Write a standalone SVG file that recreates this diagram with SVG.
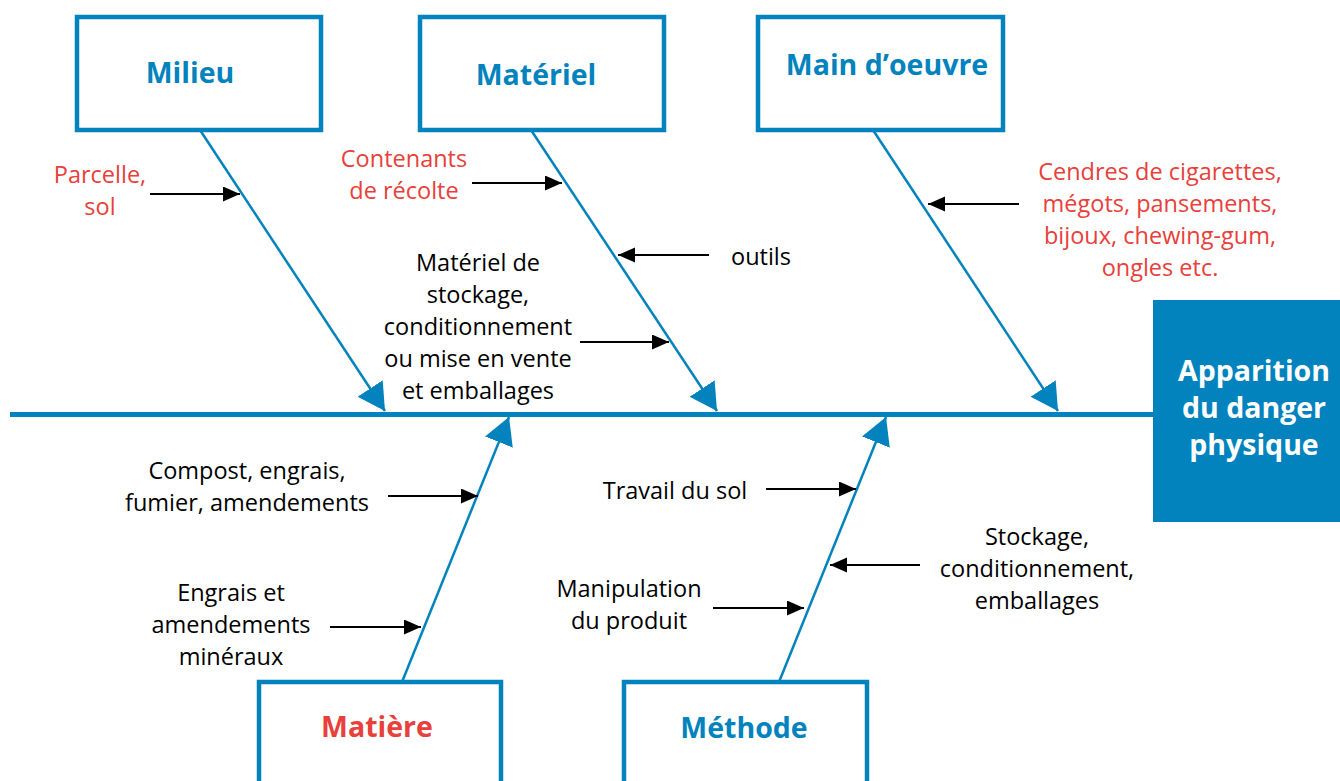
<svg xmlns="http://www.w3.org/2000/svg" width="1340" height="781" viewBox="0 0 1340 781">
<defs>
<style>
.box{fill:#ffffff;stroke:#0283BE;stroke-width:4.5}
.title{font-family:"Open Sans","Liberation Sans",sans-serif;font-weight:bold;font-size:28.5px;fill:#0283BE;text-anchor:middle}
.red{fill:#E8403A}
.lbl{font-family:"Open Sans","Liberation Sans",sans-serif;font-size:23.5px;fill:#000000;text-anchor:middle}
.lblr{font-family:"Open Sans","Liberation Sans",sans-serif;font-size:23.5px;fill:#E8403A;text-anchor:middle}
.bone{stroke:#0283BE;stroke-width:2.5;fill:none;marker-end:url(#bh)}
.sub{stroke:#000000;stroke-width:2;fill:none;marker-end:url(#ah)}
.res{font-family:"Open Sans","Liberation Sans",sans-serif;font-weight:bold;font-size:28.5px;fill:#ffffff;text-anchor:middle}
</style>
<marker id="bh" markerUnits="userSpaceOnUse" markerWidth="28" markerHeight="31" refX="27" refY="15" orient="auto" viewBox="0 0 28 31">
<path d="M0,0 L27,15 L0,30 Z" fill="#0283BE"/>
</marker>
<marker id="ah" markerUnits="userSpaceOnUse" markerWidth="18" markerHeight="16" refX="17" refY="7.5" orient="auto" viewBox="0 0 18 16">
<path d="M0,0 L17,7.5 L0,15 Z" fill="#000000"/>
</marker>
</defs>

<g id="spine">
<line x1="10" y1="414.5" x2="1153" y2="414.5" stroke="#0283BE" stroke-width="5"/>
</g>

<g id="connectors">
<line class="bone" x1="200" y1="130" x2="385" y2="411"/>
<line class="bone" x1="531" y1="130" x2="717" y2="411"/>
<line class="bone" x1="873" y1="130" x2="1058" y2="411"/>
<line class="bone" x1="402" y1="682" x2="509" y2="417"/>
<line class="bone" x1="779" y1="682" x2="886" y2="417"/>
<line class="sub" x1="150" y1="194" x2="240" y2="194"/>
<line class="sub" x1="472" y1="183" x2="562" y2="183"/>
<line class="sub" x1="709" y1="255" x2="618" y2="255"/>
<line class="sub" x1="580" y1="342" x2="669" y2="342"/>
<line class="sub" x1="1019" y1="204" x2="928" y2="204"/>
<line class="sub" x1="388" y1="496" x2="478" y2="496"/>
<line class="sub" x1="330" y1="627" x2="421" y2="627"/>
<line class="sub" x1="766" y1="489" x2="856" y2="489"/>
<line class="sub" x1="920" y1="565" x2="830" y2="565"/>
<line class="sub" x1="713" y1="608" x2="804" y2="608"/>
</g>

<g id="milieu">
<rect class="box" x="77" y="17" width="244" height="113"/>
<text class="title" x="190" y="83">Milieu</text>
</g>
<g id="materiel">
<rect class="box" x="420" y="17" width="244" height="113"/>
<text class="title" x="536" y="85">Matériel</text>
</g>
<g id="main-oeuvre">
<rect class="box" x="758" y="17" width="245" height="113"/>
<text class="title" x="887" y="75">Main d’oeuvre</text>
</g>
<g id="matiere">
<rect class="box" x="259" y="682" width="242" height="110"/>
<text class="title red" x="377" y="737">Matière</text>
</g>
<g id="methode">
<rect class="box" x="624" y="682" width="243" height="110"/>
<text class="title" x="744" y="738">Méthode</text>
</g>
<g id="resultat">
<rect x="1153" y="300" width="187" height="222" fill="#0283BE"/>
<text class="res" x="1254" y="381">Apparition</text>
<text class="res" x="1254" y="418">du danger</text>
<text class="res" x="1254" y="455">physique</text>
</g>

<g id="cause-parcelle">
<text class="lblr" x="100" y="183">Parcelle,</text>
<text class="lblr" x="100" y="215">sol</text>
</g>
<g id="cause-contenants">
<text class="lblr" x="404" y="167">Contenants</text>
<text class="lblr" x="404" y="199">de récolte</text>
</g>
<g id="cause-outils">
<text class="lbl" x="731" y="265" style="text-anchor:start">outils</text>
</g>
<g id="cause-stockage-materiel">
<text class="lbl" x="478" y="271">Matériel de</text>
<text class="lbl" x="478" y="303">stockage,</text>
<text class="lbl" x="478" y="335">conditionnement</text>
<text class="lbl" x="478" y="367">ou mise en vente</text>
<text class="lbl" x="478" y="399">et emballages</text>
</g>
<g id="cause-cendres">
<text class="lblr" x="1160" y="180">Cendres de cigarettes,</text>
<text class="lblr" x="1160" y="212">mégots, pansements,</text>
<text class="lblr" x="1160" y="244">bijoux, chewing-gum,</text>
<text class="lblr" x="1160" y="276">ongles etc.</text>
</g>
<g id="cause-compost">
<text class="lbl" x="247" y="479">Compost, engrais,</text>
<text class="lbl" x="247" y="511">fumier, amendements</text>
</g>
<g id="cause-engrais">
<text class="lbl" x="231" y="601">Engrais et</text>
<text class="lbl" x="231" y="633">amendements</text>
<text class="lbl" x="231" y="665">minéraux</text>
</g>
<g id="cause-travail">
<text class="lbl" x="675" y="499">Travail du sol</text>
</g>
<g id="cause-manipulation">
<text class="lbl" x="629" y="597">Manipulation</text>
<text class="lbl" x="629" y="629">du produit</text>
</g>
<g id="cause-stockage">
<text class="lbl" x="1037" y="545">Stockage,</text>
<text class="lbl" x="1037" y="577">conditionnement,</text>
<text class="lbl" x="1037" y="609">emballages</text>
</g>
</svg>
